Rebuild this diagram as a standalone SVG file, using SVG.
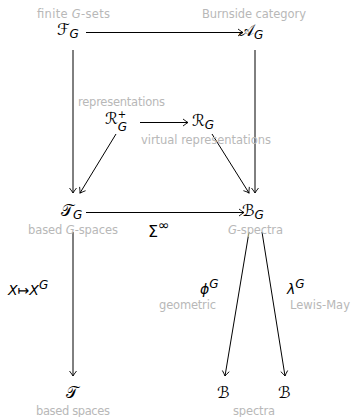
<svg xmlns="http://www.w3.org/2000/svg" width="353" height="417" viewBox="0 0 353 417">
<style>
.lbl{font-family:"DejaVu Sans","Liberation Sans",sans-serif;font-size:11.5px;fill:#b8b8b8}
.m{font-family:"DejaVu Sans","Liberation Sans",sans-serif;font-size:16px;fill:#000}
.x{font-family:"DejaVu Sans","Liberation Sans",sans-serif;font-size:14px;fill:#000;font-style:italic}
.i{font-style:italic}
.sub{font-family:"DejaVu Sans","Liberation Sans",sans-serif;font-size:12px;font-style:italic;fill:#000}
.e{fill:none;stroke:#000;stroke-width:1;marker-end:url(#ah)}
</style>
<defs>
<marker id="ah" markerWidth="10" markerHeight="10" viewBox="-6 -5 8 10" refX="0" refY="0" orient="auto" markerUnits="userSpaceOnUse">
<path d="M-5,-3.5 Q-1.5,-0.8 0,0 Q-1.5,0.8 -5,3.5" fill="none" stroke="#000" stroke-width="0.9"/>
</marker>
</defs>
<g id="connectors">
<line class="e" x1="86" y1="32.5" x2="243" y2="32.5"/>
<line class="e" x1="73" y1="50" x2="73" y2="193"/>
<line class="e" x1="255" y1="50" x2="255" y2="193"/>
<line class="e" x1="140" y1="122.5" x2="188" y2="122.5"/>
<line class="e" x1="116" y1="134" x2="80" y2="193"/>
<line class="e" x1="212" y1="134" x2="249" y2="193"/>
<line class="e" x1="86" y1="212.5" x2="244" y2="212.5"/>
<line class="e" x1="73" y1="232" x2="73" y2="376"/>
<line class="e" x1="249" y1="232" x2="225" y2="376"/>
<line class="e" x1="262" y1="232" x2="285" y2="376"/>
</g>
<g id="FG"><text class="m" x="57" y="35">ℱ<tspan class="sub" dy="3">G</tspan></text><text class="lbl" x="37" y="18" textLength="73">finite <tspan class="i">G</tspan>-sets</text></g>
<g id="AG"><text class="m" x="239" y="36">𝒜<tspan class="sub" dy="3">G</tspan></text><text class="lbl" x="202" y="18" textLength="104">Burnside category</text></g>
<g id="RGp"><text class="m" x="105" y="124">ℛ<tspan class="sub" style="font-size:10px;font-style:normal" dy="-6">+</tspan><tspan class="sub" dx="-8.5" dy="13">G</tspan></text><text class="lbl" x="78" y="106" textLength="87">representations</text></g>
<g id="RG"><text class="m" x="192" y="126">ℛ<tspan class="sub" dy="3">G</tspan></text><text class="lbl" x="141" y="144" textLength="130">virtual representations</text></g>
<g id="TG"><text class="m" x="61" y="216">𝒯<tspan class="sub" dy="3">G</tspan></text><text class="lbl" x="28" y="234" textLength="90">based  <tspan class="i">G</tspan>-spaces</text></g>
<g id="BG"><text class="m" x="242" y="216">ℬ<tspan class="sub" dy="3">G</tspan></text><text class="lbl" x="228" y="234" textLength="55"><tspan class="i">G</tspan>-spectra</text></g>
<g id="sigma"><text class="m" x="148" y="237">Σ<tspan class="sub" dy="-7" style="font-style:normal;font-size:14px">∞</tspan></text></g>
<g id="T"><text class="m" x="66" y="398">𝒯</text><text class="lbl" x="36" y="415" textLength="74">based spaces</text></g>
<g id="B1"><text class="m" x="217" y="398">ℬ</text></g>
<g id="B2"><text class="m" x="278" y="398">ℬ</text><text class="lbl" x="233" y="415" textLength="42">spectra</text></g>
<g id="fix"><text class="x" x="8" y="295">X<tspan style="font-style:normal">↦</tspan>X<tspan class="sub" dy="-6">G</tspan></text></g>
<g id="phi"><text class="x" x="200" y="294">ϕ<tspan class="sub" dy="-6">G</tspan></text><text class="lbl" x="159" y="309" textLength="57">geometric</text></g>
<g id="lam"><text class="x" x="287" y="294">λ<tspan class="sub" dy="-6">G</tspan></text><text class="lbl" x="290" y="309" textLength="60">Lewis-May</text></g>
</svg>
